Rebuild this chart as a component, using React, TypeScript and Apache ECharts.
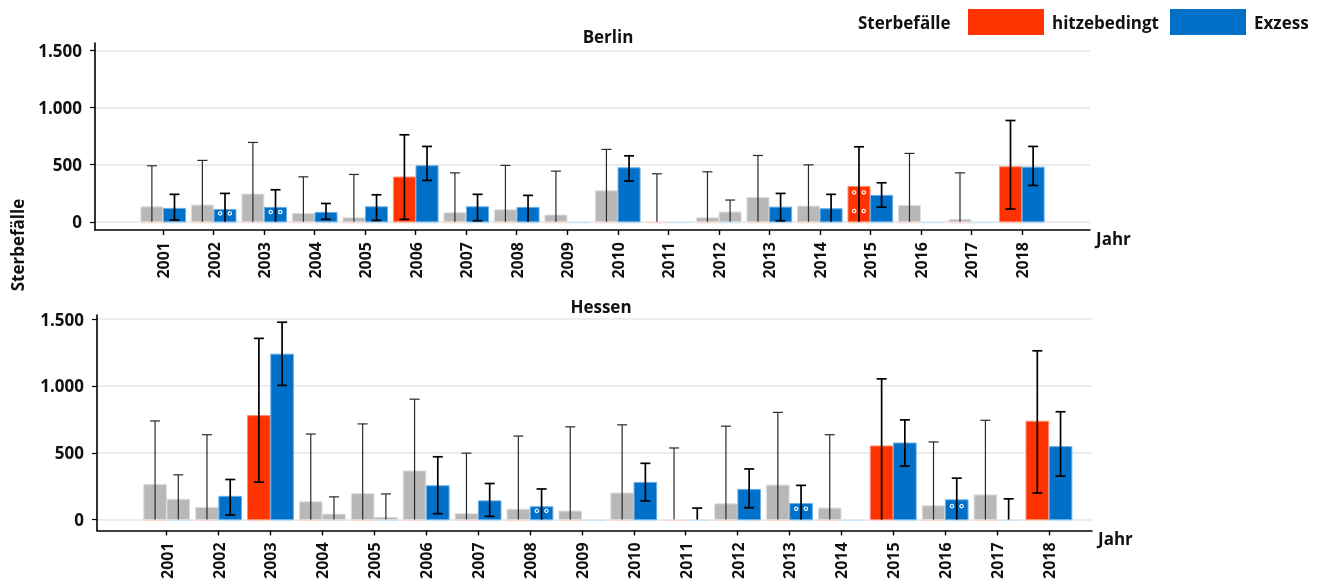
import React, { useEffect, useRef } from 'react';
import * as echarts from 'echarts';

const YEARS = [2001, 2002, 2003, 2004, 2005, 2006, 2007, 2008, 2009, 2010, 2011, 2012, 2013, 2014, 2015, 2016, 2017, 2018];
const Y_TICKS = [0, 500, 1000, 1500];
const LEGEND_TITLE = 'Sterbefälle';
const SERIES_NAMES = ['hitzebedingt', 'Exzess'];

// Berlin – hitzebedingt
const BERLIN_HITZE = [131, 146, 242, 73, 35, 391, 79, 105, 59, 271, 0, 35, 213, 137, 309, 143, 21, 481];
const BERLIN_HITZE_LOW = [0, 0, 0, 0, 0, 21, 0, 0, 0, 0, 0, 0, 0, 0, 0, 0, 0, 111];
const BERLIN_HITZE_HIGH = [490, 537, 694, 393, 414, 761, 428, 493, 443, 633, 420, 437, 580, 498, 656, 598, 428, 886];
const BERLIN_HITZE_SIG = [0, 0, 0, 0, 0, 1, 0, 0, 0, 0, 0, 0, 0, 0, 1, 0, 0, 1];
const BERLIN_HITZE_MARK = [0, 0, 0, 0, 0, 0, 0, 0, 0, 0, 0, 0, 0, 0, 1, 0, 0, 0];
// Berlin – Exzess
const BERLIN_EXZESS = [117, 108, 126, 82, 131, 490, 131, 126, 0, 472, 0, 85, 128, 114, 231, 0, 0, 478];
const BERLIN_EXZESS_LOW = [15, 0, 0, 21, 12, 362, 9, 0, null, 356, null, 0, 9, 0, 128, null, null, 318];
const BERLIN_EXZESS_HIGH = [240, 248, 280, 160, 236, 659, 240, 231, null, 577, null, 190, 248, 240, 341, null, null, 659];
const BERLIN_EXZESS_SIG = [1, 1, 1, 1, 1, 1, 1, 1, 1, 1, 1, 0, 1, 1, 1, 1, 1, 1];
const BERLIN_EXZESS_MARK = [0, 1, 1, 0, 0, 0, 0, 0, 0, 0, 0, 0, 0, 0, 0, 0, 0, 0];

// Hessen – hitzebedingt
const HESSEN_HITZE = [263, 91, 778, 133, 194, 364, 44, 78, 64, 199, 0, 118, 258, 86, 551, 103, 185, 736];
const HESSEN_HITZE_LOW = [0, 0, 280, 0, 0, 0, 0, 0, 0, 0, 0, 0, 0, 0, 0, 0, 0, 199];
const HESSEN_HITZE_HIGH = [738, 635, 1356, 640, 716, 901, 497, 625, 694, 709, 536, 699, 802, 635, 1053, 581, 743, 1263];
const HESSEN_HITZE_SIG = [0, 0, 1, 0, 0, 0, 0, 0, 0, 0, 0, 0, 0, 0, 1, 0, 0, 1];
const HESSEN_HITZE_MARK = [0, 0, 0, 0, 0, 0, 0, 0, 0, 0, 0, 0, 0, 0, 0, 0, 0, 0];
// Hessen – Exzess
const HESSEN_EXZESS = [152, 174, 1238, 41, 17, 253, 140, 96, 0, 278, 0, 226, 120, 0, 573, 148, 0, 546];
const HESSEN_EXZESS_LOW = [0, 34, 1004, 0, 0, 44, 24, 0, null, 140, 0, 89, 0, null, 401, 0, 0, 325];
const HESSEN_EXZESS_HIGH = [335, 300, 1477, 170, 192, 470, 270, 229, null, 421, 86, 379, 256, null, 746, 310, 155, 807];
const HESSEN_EXZESS_SIG = [0, 1, 1, 0, 0, 1, 1, 1, 1, 1, 1, 1, 1, 1, 1, 1, 1, 1];
const HESSEN_EXZESS_MARK = [0, 0, 0, 0, 0, 0, 0, 1, 0, 0, 0, 0, 1, 0, 0, 1, 0, 0];

const RED = '#ff3300';
const BLUE = '#0070c9';
const GRAY = '#b8b8b8';
const TEXT = '#111111';
const FONT = "'Open Sans', 'Noto Sans', sans-serif";

type Bars = {
  vals: number[];
  low: (number | null)[];
  high: (number | null)[];
  sig: number[];
  mark: number[];
};

const deFormat = (v: number) => {
  const s = String(Math.round(v));
  return s.replace(/\B(?=(\d{3})+(?!\d))/g, '.');
};

function makeRender(side: number, b: Bars, color: string, edge: string, tint: string) {
  return (params: any, api: any) => {
    const i = params.dataIndex;
    const year = YEARS[i];
    const band = api.size([1, 0])[0];
    const w = band * 0.436;
    const base = api.coord([year, 0]);
    const cx = base[0];
    const y0 = base[1];
    const yTop = api.coord([year, b.vals[i]])[1];
    const x0 = side < 0 ? cx - w - 0.3 : cx + 0.3;
    const mid = x0 + w / 2;
    const isSig = b.sig[i] === 1;
    const fill = isSig ? color : GRAY;
    const children: any[] = [];
    children.push({
      type: 'rect',
      shape: { x: x0, y: y0, width: w, height: 1.6 },
      style: { fill: tint },
    });
    if (b.vals[i] > 0) {
      children.push({
        type: 'rect',
        shape: { x: x0, y: yTop, width: w, height: y0 - yTop },
        style: { fill, stroke: isSig ? edge : '#dedede', lineWidth: 1 },
      });
    }
    if (b.mark[i] === 1 && b.vals[i] > 0) {
      const h = y0 - yTop;
      const rows: number[] = [];
      if (h < 25) rows.push(h * 0.68);
      else for (let o = 10.7; o < h - 4; o += 18.7) rows.push(o);
      rows.forEach((o) => {
        [-4.8, 4.8].forEach((dx) => {
          children.push({
            type: 'circle',
            shape: { cx: mid + dx, cy: y0 - o, r: 1.7 },
            style: { fill: 'none', stroke: '#ffffff', lineWidth: 1.1 },
          });
        });
      });
    }
    const lo = b.low[i];
    const hi = b.high[i];
    if (lo !== null && hi !== null) {
      const yl = api.coord([year, lo])[1];
      const yh = api.coord([year, hi])[1];
      const stroke = isSig ? '#000000' : '#2a2a2a';
      const lw = isSig ? 1.7 : 1.2;
      const cap = 5;
      children.push({ type: 'line', shape: { x1: mid, y1: yl, x2: mid, y2: yh }, style: { stroke, lineWidth: lw } });
      children.push({ type: 'line', shape: { x1: mid - cap, y1: yh, x2: mid + cap, y2: yh }, style: { stroke, lineWidth: lw } });
      if (lo > 0) {
        children.push({ type: 'line', shape: { x1: mid - cap, y1: yl, x2: mid + cap, y2: yl }, style: { stroke, lineWidth: lw } });
      }
    }
    return { type: 'group', children };
  };
}

const PANELS = [
  {
    title: 'Berlin',
    titleX: 608,
    titleY: 36,
    grid: { left: 95, top: 43, width: 995, height: 187 },
    xMin: 1999.65,
    xMax: 2019.35,
    yMin: -72,
    yMax: 1564,
    hitze: { vals: BERLIN_HITZE, low: BERLIN_HITZE_LOW, high: BERLIN_HITZE_HIGH, sig: BERLIN_HITZE_SIG, mark: BERLIN_HITZE_MARK },
    exzess: { vals: BERLIN_EXZESS, low: BERLIN_EXZESS_LOW, high: BERLIN_EXZESS_HIGH, sig: BERLIN_EXZESS_SIG, mark: BERLIN_EXZESS_MARK },
  },
  {
    title: 'Hessen',
    titleX: 601,
    titleY: 306,
    grid: { left: 97, top: 315, width: 995, height: 218 },
    xMin: 1999.657,
    xMax: 2018.83,
    yMin: -81,
    yMax: 1531,
    hitze: { vals: HESSEN_HITZE, low: HESSEN_HITZE_LOW, high: HESSEN_HITZE_HIGH, sig: HESSEN_HITZE_SIG, mark: HESSEN_HITZE_MARK },
    exzess: { vals: HESSEN_EXZESS, low: HESSEN_EXZESS_LOW, high: HESSEN_EXZESS_HIGH, sig: HESSEN_EXZESS_SIG, mark: HESSEN_EXZESS_MARK },
  },
];

export default function App() {
  const ref = useRef<HTMLDivElement>(null);

  useEffect(() => {
    if (!ref.current) return;
    const chart = echarts.init(ref.current, undefined, { renderer: 'svg' });

    const grids = PANELS.map((p) => p.grid);
    const xAxes = PANELS.map((p, k) => ({
      type: 'value',
      gridIndex: k,
      min: p.xMin,
      max: p.xMax,
      name: 'Jahr',
      nameLocation: 'end',
      nameGap: 6,
      nameTextStyle: { fontSize: 17, fontWeight: 'bold', color: TEXT, fontFamily: FONT, verticalAlign: 'top', padding: [0, 0, 0, 0] },
      axisLine: { show: true, onZero: false, lineStyle: { color: '#000', width: 1.6 } },
      axisTick: { show: true, length: 5, customValues: YEARS, lineStyle: { color: '#000', width: 1.4 } },
      axisLabel: {
        show: true,
        customValues: YEARS,
        rotate: 90,
        margin: 12,
        fontSize: 16,
        fontWeight: 'bold',
        color: TEXT,
        fontFamily: FONT,
        formatter: (v: number) => String(v),
      },
      splitLine: { show: false },
    }));
    const yAxes = PANELS.map((p, k) => ({
      type: 'value',
      gridIndex: k,
      min: p.yMin,
      max: p.yMax,
      axisLine: { show: true, onZero: false, lineStyle: { color: '#000', width: 1.6 } },
      axisTick: { show: true, length: 5, customValues: Y_TICKS, lineStyle: { color: '#000', width: 1.2 } },
      axisLabel: {
        show: true,
        customValues: Y_TICKS,
        margin: 13,
        fontSize: 17,
        fontWeight: 'bold',
        color: TEXT,
        fontFamily: FONT,
        formatter: (v: number) => deFormat(v),
      },
      splitLine: { show: true, lineStyle: { color: '#e6e6e6', width: 1.6 } },
    }));

    const series: any[] = [];
    PANELS.forEach((p, k) => {
      series.push({
        type: 'custom',
        name: SERIES_NAMES[0],
        xAxisIndex: k,
        yAxisIndex: k,
        itemStyle: { color: RED },
        encode: { x: 0, y: 1 },
        data: YEARS.map((y, i) => [y, p.hitze.vals[i]]),
        renderItem: makeRender(-1, p.hitze, RED, '#ff8f73', '#fbdcd3'),
      });
      series.push({
        type: 'custom',
        name: SERIES_NAMES[1],
        xAxisIndex: k,
        yAxisIndex: k,
        itemStyle: { color: BLUE },
        encode: { x: 0, y: 1 },
        data: YEARS.map((y, i) => [y, p.exzess.vals[i]]),
        renderItem: makeRender(1, p.exzess, BLUE, '#6aaee6', '#d3e6f6'),
      });
    });

    const legendBase = {
      top: 9,
      padding: 0,
      icon: 'rect',
      itemWidth: 76,
      itemHeight: 26,
      selectedMode: false,
      textStyle: { fontSize: 17, fontWeight: 'bold', color: TEXT, fontFamily: FONT, padding: [0, 0, 0, 3] },
    };

    chart.setOption({
      animation: false,
      textStyle: { fontFamily: FONT },
      grid: grids,
      xAxis: xAxes,
      yAxis: yAxes,
      legend: [
        { ...legendBase, left: 968, data: [SERIES_NAMES[0]] },
        { ...legendBase, left: 1170, data: [SERIES_NAMES[1]] },
      ],
      graphic: [
        {
          type: 'text',
          x: 858,
          y: 22,
          style: { text: LEGEND_TITLE, fontSize: 17, fontWeight: 'bold', fill: TEXT, fontFamily: FONT, textAlign: 'left', textVerticalAlign: 'middle' },
        },
        {
          type: 'text',
          x: 17,
          y: 245,
          rotation: Math.PI / 2,
          style: { text: LEGEND_TITLE, fontSize: 17, fontWeight: 'bold', fill: TEXT, fontFamily: FONT, textAlign: 'center', textVerticalAlign: 'middle' },
        },
        ...PANELS.map((p) => ({
          type: 'text',
          x: p.titleX,
          y: p.titleY,
          style: { text: p.title, fontSize: 17, fontWeight: 'bold', fill: TEXT, fontFamily: FONT, textAlign: 'center', textVerticalAlign: 'middle' },
        })),
      ],
      series,
    });

    return () => chart.dispose();
  }, []);

  return <div ref={ref} style={{ position: 'fixed', left: 0, top: 0, width: 1324, height: 582 }} />;
}
